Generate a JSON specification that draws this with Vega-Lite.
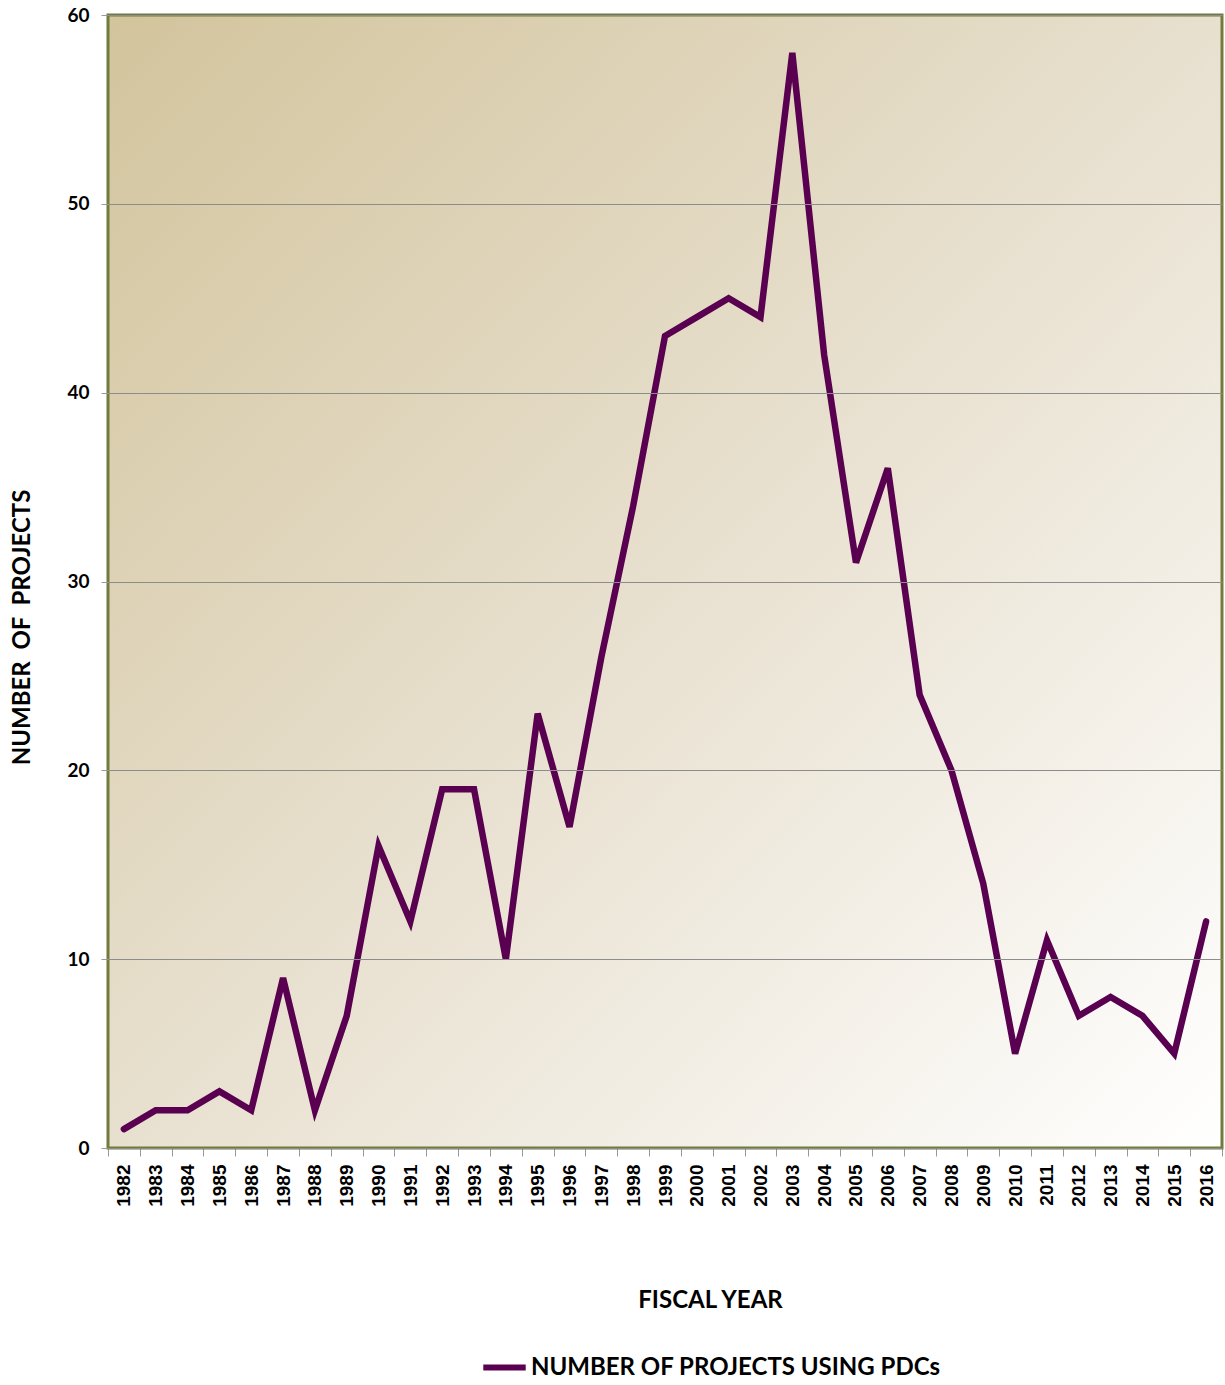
{
  "$schema": "https://vega.github.io/schema/vega-lite/v6.json",
  "width": 1114,
  "height": 1133,
  "autosize": {"type": "none"},
  "padding": {"left": 108, "top": 15, "right": 3, "bottom": 237},
  "background": "#ffffff",
  "config": {
    "view": {"stroke": null},
    "axis": {"labelFont": "Liberation Sans", "titleFont": "Lato"}
  },
  "layer": [
    {
      "data": {"values": [{"bg": 1}]},
      "mark": {
        "type": "rect",
        "stroke": "#717b3b",
        "strokeWidth": 3,
        "fill": {
          "gradient": "linear",
          "x1": 0, "y1": 0, "x2": 1, "y2": 1,
          "stops": [
            {"offset": 0, "color": "#d2c49c"},
            {"offset": 0.5, "color": "#e8e0cf"},
            {"offset": 1, "color": "#ffffff"}
          ]
        }
      },
      "encoding": {}
    },
    {
      "data": {"values": [
        {"year": "1982", "projects": 1},
        {"year": "1983", "projects": 2},
        {"year": "1984", "projects": 2},
        {"year": "1985", "projects": 3},
        {"year": "1986", "projects": 2},
        {"year": "1987", "projects": 9},
        {"year": "1988", "projects": 2},
        {"year": "1989", "projects": 7},
        {"year": "1990", "projects": 16},
        {"year": "1991", "projects": 12},
        {"year": "1992", "projects": 19},
        {"year": "1993", "projects": 19},
        {"year": "1994", "projects": 10},
        {"year": "1995", "projects": 23},
        {"year": "1996", "projects": 17},
        {"year": "1997", "projects": 26},
        {"year": "1998", "projects": 34},
        {"year": "1999", "projects": 43},
        {"year": "2000", "projects": 44},
        {"year": "2001", "projects": 45},
        {"year": "2002", "projects": 44},
        {"year": "2003", "projects": 58},
        {"year": "2004", "projects": 42},
        {"year": "2005", "projects": 31},
        {"year": "2006", "projects": 36},
        {"year": "2007", "projects": 24},
        {"year": "2008", "projects": 20},
        {"year": "2009", "projects": 14},
        {"year": "2010", "projects": 5},
        {"year": "2011", "projects": 11},
        {"year": "2012", "projects": 7},
        {"year": "2013", "projects": 8},
        {"year": "2014", "projects": 7},
        {"year": "2015", "projects": 5},
        {"year": "2016", "projects": 12}
      ]},
      "transform": [{"calculate": "'NUMBER OF PROJECTS USING PDCs'", "as": "series"}],
      "mark": {"type": "line", "strokeWidth": 6.5, "strokeJoin": "miter", "strokeCap": "round"},
      "encoding": {
        "x": {
          "field": "year", "type": "ordinal",
          "scale": {"type": "band", "paddingInner": 0, "paddingOuter": 0},
          "axis": {
            "title": "FISCAL YEAR",
            "titleFontSize": 24, "titleFontWeight": "bold", "titleColor": "#000000",
            "titleX": 602, "titleY": 152, "titleBaseline": "middle",
            "labelAngle": -90, "labelFontSize": 19, "labelFontWeight": "bold", "labelColor": "#000000",
            "labelPadding": 8,
            "tickBand": "extent", "tickColor": "#999999", "tickSize": 8,
            "domain": false, "grid": false
          }
        },
        "y": {
          "field": "projects", "type": "quantitative",
          "scale": {"domain": [0, 60], "nice": false},
          "axis": {
            "zindex": 1,
            "title": "NUMBER\u00a0\u00a0OF\u00a0\u00a0PROJECTS",
            "titleFontSize": 24, "titleFontWeight": "bold", "titleColor": "#000000",
            "titleX": -86, "titleY": 612, "titleAngle": -90, "titleBaseline": "middle", "titleAlign": "center",
            "values": [0, 10, 20, 30, 40, 50, 60],
            "labelFont": "Lato", "labelFontSize": 19, "labelFontWeight": "bold", "labelColor": "#000000",
            "labelPadding": 12,
            "tickColor": "#999999", "tickSize": 7,
            "grid": true, "gridColor": "#8c8c8c", "gridWidth": 1,
            "domain": false
          }
        },
        "color": {
          "field": "series", "type": "nominal",
          "scale": {"range": ["#5a0050"]},
          "legend": {
            "title": null,
            "orient": "none", "legendX": 372, "legendY": 1328,
            "symbolType": "stroke", "symbolStrokeWidth": 6, "symbolSize": 1800,
            "labelFont": "Lato", "labelFontSize": 24, "labelFontWeight": "bold", "labelColor": "#000000",
            "labelOffset": 2, "labelLimit": 0
          }
        }
      }
    }
  ]
}
